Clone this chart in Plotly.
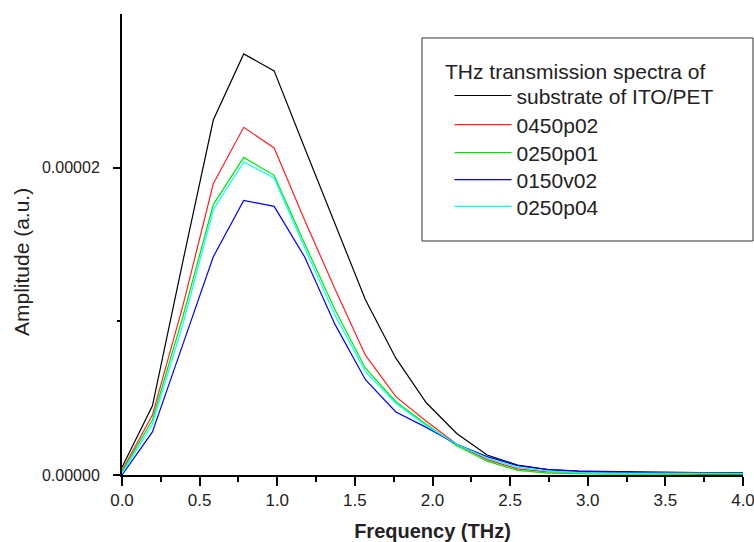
import plotly.graph_objects as go
import numpy as np

# frequency samples (THz)
freq = [0, 0.196, 0.392, 0.588, 0.784, 0.98, 1.176, 1.372, 1.568, 1.764, 1.96,
        2.156, 2.352, 2.548, 2.744, 2.94, 3.136, 3.332, 3.528, 3.724, 3.92, 4.116]

# amplitudes, in units of 1e-5 a.u.
substrate = [0.05, 0.45, 1.39, 2.31, 2.74, 2.63, 2.13, 1.63, 1.14, 0.76, 0.47,
             0.27, 0.13, 0.065, 0.035, 0.025, 0.022, 0.02, 0.02, 0.015, 0.015, 0.015]
s0450p02 = [0.03, 0.39, 1.10, 1.895, 2.263, 2.128, 1.66, 1.21, 0.78, 0.51, 0.35,
            0.20, 0.10, 0.04, 0.02, 0.018, 0.015, 0.015, 0.012, 0.01, 0.01, 0.01]
s0250p01 = [0.02, 0.36, 1.03, 1.76, 2.067, 1.95, 1.507, 1.075, 0.695, 0.477, 0.33,
            0.19, 0.09, 0.03, 0.012, 0.008, 0.006, 0.005, 0.005, 0.004, 0.004, 0.004]
s0150v02 = [0.0, 0.28, 0.85, 1.42, 1.787, 1.748, 1.42, 0.98, 0.62, 0.41, 0.31,
            0.20, 0.12, 0.06, 0.035, 0.025, 0.02, 0.015, 0.01, 0.008, 0.008, 0.008]
s0250p04 = [0.01, 0.33, 0.98, 1.726, 2.037, 1.933, 1.48, 1.04, 0.673, 0.467, 0.32,
            0.20, 0.11, 0.05, 0.025, 0.015, 0.012, 0.01, 0.01, 0.01, 0.01, 0.01]

series_names = ["substrate of ITO/PET", "0450p02", "0250p01", "0150v02", "0250p04"]
series_values = [substrate, s0450p02, s0250p01, s0150v02, s0250p04]
series_colors = ["#000000", "#ff2020", "#00e600", "#0000ff", "#00ffff"]
legend_title = "THz transmission spectra of"

x_ticks = [0, 0.5, 1.0, 1.5, 2.0, 2.5, 3.0, 3.5, 4.0]
x_tick_labels = ["0.0", "0.5", "1.0", "1.5", "2.0", "2.5", "3.0", "3.5", "4.0"]
y_ticks = [0, 2e-5]
y_tick_labels = ["0.00000", "0.00002"]

font = "Arial, Liberation Sans, sans-serif"
text_col = "#222222"

# one legend per entry so the rows can sit at the same spacing as the original
legend_ids = ["legend", "legend2", "legend3", "legend4", "legend5"]
legend_rows_y = [0.8225, 0.7592, 0.6985, 0.6399, 0.5820]

fig = go.Figure()
for name, vals, col, lid in zip(series_names, series_values, series_colors, legend_ids):
    fig.add_trace(go.Scatter(
        x=freq, y=np.array(vals) * 1e-5, mode="lines", name=name,
        line=dict(color=col, width=1.2), legend=lid,
    ))

legend_style = dict(font=dict(size=21), x=0.5274, xanchor="left", yanchor="middle",
                    borderwidth=0, bgcolor="rgba(0,0,0,0)", itemwidth=57)
legends = {lid: dict(legend_style, y=ly) for lid, ly in zip(legend_ids, legend_rows_y)}

fig.update_layout(
    width=754, height=542,
    margin=dict(l=122, r=11, t=14, b=67),
    plot_bgcolor="white", paper_bgcolor="white",
    font=dict(family=font, color=text_col),
    showlegend=True,
    **legends,
    shapes=[dict(type="rect", xref="paper", yref="paper",
                 x0=0.4831, x1=1.0161, y0=0.5076, y1=0.948,
                 line=dict(color="#333333", width=1), fillcolor="white", layer="below")],
    annotations=[
        dict(text="Amplitude (a.u.)", textangle=-90, showarrow=False,
             xref="paper", yref="paper", x=-0.1626, y=0.462,
             xanchor="center", yanchor="middle", font=dict(size=21, color=text_col)),
        dict(text=legend_title, showarrow=False, xref="paper", yref="paper",
             x=0.5169, y=0.8748, xanchor="left", yanchor="middle",
             font=dict(size=21, color=text_col)),
    ],
)

fig.update_xaxes(
    range=[0, 4], showgrid=False, zeroline=False, automargin=False,
    showline=True, linecolor="black", linewidth=2,
    ticks="outside", ticklen=9, tickwidth=2, tickcolor="black",
    tickvals=x_ticks, ticktext=x_tick_labels, tickfont=dict(size=17),
    ticklabeloverflow="allow",
    minor=dict(tickvals=[0.25, 0.75, 1.25, 1.75, 2.25, 2.75, 3.25, 3.75],
               ticks="outside", ticklen=5, tickwidth=2, tickcolor="black"),
    title=dict(text="<b>Frequency (THz)</b>", font=dict(size=20, color=text_col), standoff=15),
)
fig.update_yaxes(
    range=[0, 3e-5], showgrid=False, zeroline=False, automargin=False,
    showline=True, linecolor="black", linewidth=2,
    ticks="outside", ticklen=7, tickwidth=2, tickcolor="black",
    tickvals=y_ticks, ticktext=y_tick_labels, tickfont=dict(size=16),
    ticklabelstandoff=10,
    minor=dict(tickvals=[1e-5], ticks="outside", ticklen=3, tickwidth=2, tickcolor="black"),
)

# drop the default page margin so the figure fills the window exactly
fig.write_html("out.html", config={"displayModeBar": False},
               post_script="document.body.style.margin='0';document.body.style.overflow='hidden';")
